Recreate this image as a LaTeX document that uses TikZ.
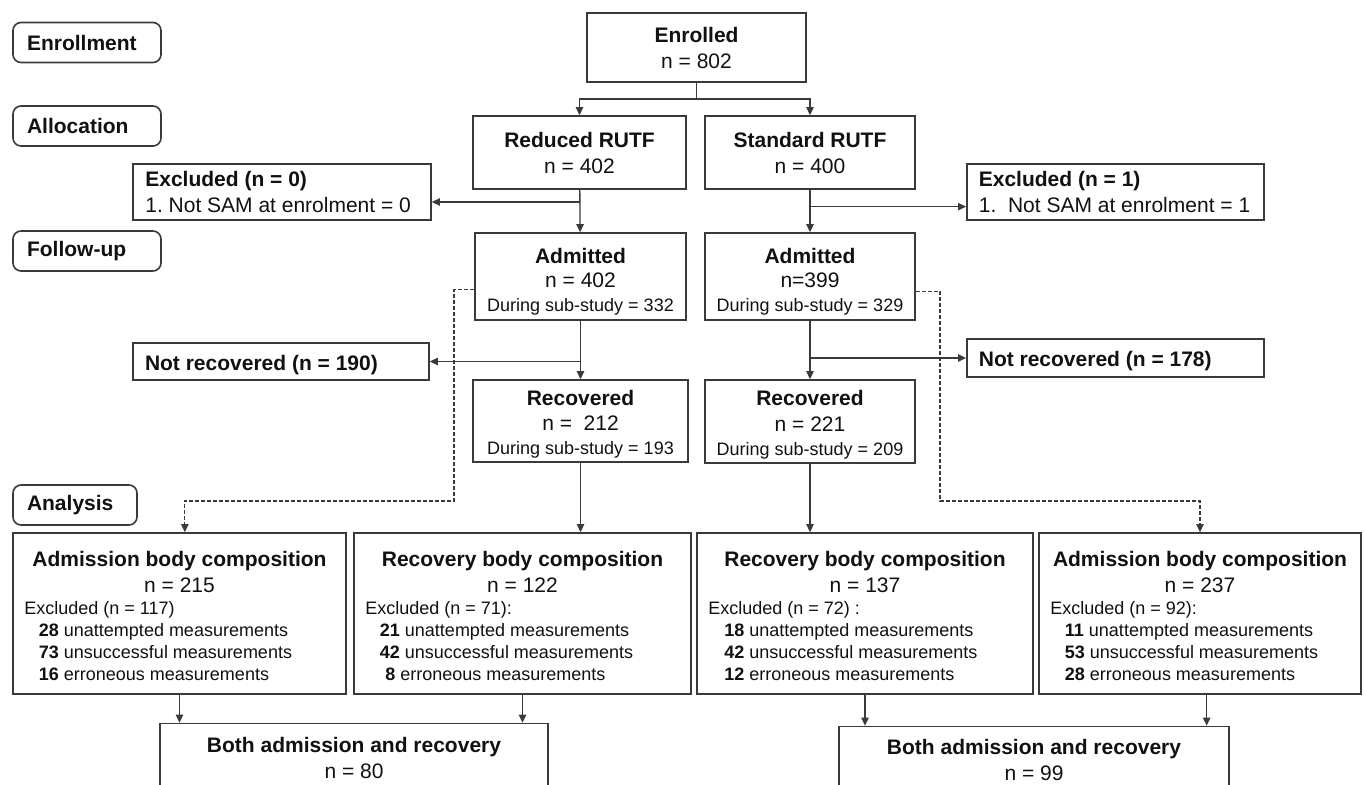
\documentclass[tikz,border=0pt]{standalone}
\usepackage{fontspec}
\setmainfont{Liberation Sans}
\usetikzlibrary{arrows.meta,positioning}
\definecolor{FlowLine}{HTML}{3A3A3A}
\definecolor{FlowText}{HTML}{111111}
\newcommand\fbig{\fontsize{15.75pt}{19.5pt}\selectfont}
\newcommand\fsmall{\fontsize{13.5pt}{16.5pt}\selectfont}
\newcommand\topgap[1]{\rule{0pt}{#1}}
\frenchspacing

\begin{document}
\begin{tikzpicture}[x=0.75pt,y=-0.75pt,
  box/.style={draw=FlowLine,line width=1.2pt,text=FlowText,inner sep=0pt,align=center,font=\fbig},
  size/.style 2 args={minimum width=#1*0.75pt,minimum height=#2*0.75pt},
  lbox/.style={box,align=left,inner xsep=9pt},
  stage/.style={box,rounded corners=6pt,align=left,inner xsep=10.5pt,minimum height=30pt,font=\fbig\bfseries},
  hd/.style={text=FlowText,align=center,inner sep=0pt,font=\fbig},
  lst/.style={text=FlowText,align=left,inner sep=0pt,anchor=north west,font=\fsmall},
  arr/.style={-{Triangle[length=6pt,width=5.5pt]},line width=1pt,FlowLine},
  darr/.style={arr,line width=0.8pt,dash pattern=on 3pt off 1.5pt},
]
\path[use as bounding box,fill=white] (0,0) rectangle (1364,785);
\clip (0,0) rectangle (1364,785);

% stage labels
\node[stage,text width=90pt] (lEnr) at (87,42.5) {Enrollment};
\node[stage,text width=90pt] (lAll) at (87,126) {Allocation};
\node[stage,text width=90pt] (lFol) at (87,251) {Follow-up};
\node[stage,text width=72pt] (lAna) at (75,505) {Analysis};

% enrolment and allocation
\node[box,size={219}{69}] (enr) at (696.5,47.5) {{\bfseries Enrolled}\\n = 802};
\node[box,size={213}{73}] (red) at (579.5,152.5) {{\bfseries Reduced RUTF}\\n = 402};
\node[box,size={210}{73}] (std) at (810,152.5) {{\bfseries Standard RUTF}\\n = 400};
\node[lbox,size={298}{56}] (exL) at (282,192) {\makebox[205pt][l]{\bfseries Excluded (n = 0)}\\1. Not SAM at enrolment = 0};
\node[lbox,size={297}{56}] (exR) at (1115.5,192) {\makebox[205pt][l]{\bfseries Excluded (n = 1)}\\1.\ \ Not SAM at enrolment = 1};

% follow-up
\node[box,size={211}{87}] (admL) at (580.5,276.5) {\topgap{19.5pt}{\bfseries Admitted}\\[-1pt]n = 402\\[-1.5pt]{\fsmall During sub-study = 332}};
\node[box,size={210}{87}] (admR) at (810,276.5) {\topgap{19.5pt}{\bfseries Admitted}\\[-1pt]n=399\\[-1.5pt]{\fsmall During sub-study = 329}};
\node[lbox,size={296}{37},text height=14pt,text depth=0pt,font=\fbig\bfseries] (nrL) at (281,361.5) {\makebox[204pt][l]{Not recovered (n = 190)}};
\node[lbox,size={297}{38},text height=13pt,text depth=0pt,font=\fbig\bfseries] (nrR) at (1115.5,358) {\makebox[205pt][l]{Not recovered (n = 178)}};
\node[box,size={215}{82}] (recL) at (580.5,421) {\topgap{16.5pt}{\bfseries Recovered}\\[-0.5pt]n = \ 212\\[-1.5pt]{\fsmall During sub-study = 193}};
\node[box,size={210}{83}] (recR) at (810,421.5) {\topgap{16.5pt}{\bfseries Recovered}\\[-0.5pt]n = 221\\[-1.5pt]{\fsmall During sub-study = 209}};

% analysis
\node[box,size={333}{161}] (bAL) at (179.5,613.5) {};
\node[box,size={337}{161}] (bRL) at (522.5,613.5) {};
\node[box,size={336}{161}] (bRR) at (865,613.5) {};
\node[box,size={322}{161}] (bAR) at (1200,613.5) {};
\node[hd] (tAL) at (179.5,572) {{\bfseries Admission body composition}\\n = 215};
\node[hd] (tRL) at (522.5,572) {{\bfseries Recovery body composition}\\n = 122};
\node[hd] (tRR) at (865,572) {{\bfseries Recovery body composition}\\n = 137};
\node[hd] (tAR) at (1200,572) {{\bfseries Admission body composition}\\n = 237};
\node[lst] (xAL) at (24,601) {Excluded (n = 117)\\\hspace*{11pt}\textbf{28} unattempted measurements\\\hspace*{11pt}\textbf{73} unsuccessful measurements\\\hspace*{11pt}\textbf{16} erroneous measurements};
\node[lst] (xRL) at (365,601) {Excluded (n = 71):\\\hspace*{11pt}\textbf{21} unattempted measurements\\\hspace*{11pt}\textbf{42} unsuccessful measurements\\\hspace*{15pt}\textbf{8} erroneous measurements};
\node[lst] (xRR) at (708,601) {Excluded (n = 72) :\\\hspace*{12pt}\textbf{18} unattempted measurements\\\hspace*{12pt}\textbf{42} unsuccessful measurements\\\hspace*{12pt}\textbf{12} erroneous measurements};
\node[lst] (xAR) at (1050,601) {Excluded (n = 92):\\\hspace*{11pt}\textbf{11} unattempted measurements\\\hspace*{11pt}\textbf{53} unsuccessful measurements\\\hspace*{11pt}\textbf{28} erroneous measurements};
\node[box,size={388}{69}] (bothL) at (354,758) {{\bfseries Both admission and recovery}\\n = 80};
\node[box,size={390}{67}] (bothR) at (1034,760) {{\bfseries Both admission and recovery}\\n = 99};

% connectors
\coordinate (split) at (696.5,99);
\coordinate (exLin) at ([yshift=-7.5pt]exL.east);
\coordinate (exRin) at ([yshift=-11pt]exR.west);
\coordinate (dl) at (454,501);
\coordinate (dr) at (940,501);
\draw[line width=1pt,FlowLine] (enr.south) -- (split);
\draw[arr] (split) -| (red.north);
\draw[arr] (split) -| (std.north);
\draw[arr] (red) -- (admL);
\draw[arr] (std) -- (admR);
\draw[arr] (red.south |- exLin) -- (exLin);
\draw[arr] (std.south |- exRin) -- (exRin);
\draw[arr] (admL) -- (recL);
\draw[arr] (admR) -- (recR);
\draw[arr] (admL.south |- nrL.east) -- (nrL.east);
\draw[arr] (admR.south |- nrR.west) -- (nrR.west);
\draw[arr] (recL.south) -- (recL.south |- bRL.north);
\draw[arr] (recR.south) -- (recR.south |- bRR.north);
\draw[darr] ([yshift=-10pt]admL.west) -| (dl) -| ([xshift=4pt]bAL.north);
\draw[darr] ([yshift=-11pt]admR.east) -| (dr) -| (bAR.north);
\draw[arr] (bAL.south) -- (bAL.south |- bothL.north);
\draw[arr] (bRL.south) -- (bRL.south |- bothL.north);
\draw[arr] (bRR.south) -- (bRR.south |- bothR.north);
\draw[arr] ([xshift=5pt]bAR.south) -- ([xshift=5pt]bAR.south |- bothR.north);
\end{tikzpicture}
\end{document}
